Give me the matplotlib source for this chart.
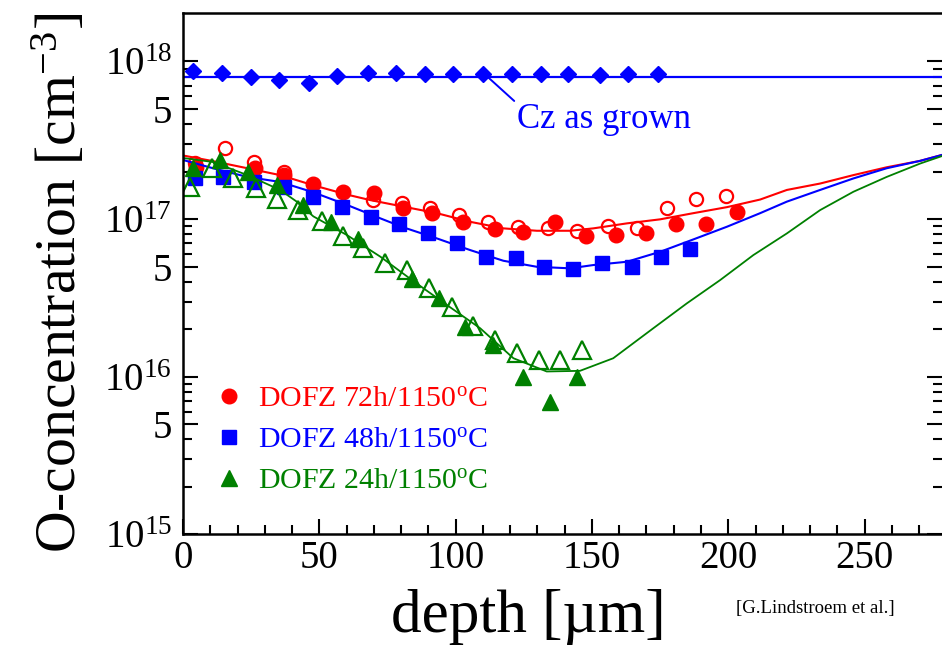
import numpy as np
import matplotlib
matplotlib.use('Agg')
from matplotlib import pyplot as plt
from matplotlib.ticker import FixedLocator, FixedFormatter

plt.rcParams['font.family'] = ['Liberation Serif', 'DejaVu Serif']
plt.rcParams['mathtext.fontset'] = 'custom'
plt.rcParams['mathtext.rm'] = 'Liberation Serif'
plt.rcParams['mathtext.it'] = 'Liberation Serif:italic'

RED, BLUE, GREEN = '#ff0000', '#0000ff', '#008000'

# Cz as grown
cz_depth = [3.6, 14.2, 24.9, 35.3, 46.2, 56.6, 67.8, 78.1, 88.8, 99.2, 110.2,
            120.6, 131.3, 141.3, 152.9, 163.3, 174.1]
cz_conc = [8.72e17, 8.39e17, 7.99e17, 7.61e17, 7.25e17, 8.07e17, 8.39e17, 8.39e17,
           8.31e17, 8.31e17, 8.31e17, 8.31e17, 8.31e17, 8.31e17, 8.19e17, 8.31e17, 8.31e17]
cz_level = 7.99e17

# DOFZ 72h
d72_depth = [4.8, 26.4, 37.1, 47.8, 58.8, 70.1, 80.8, 91.2, 102.6, 114.5, 124.8,
             136.5, 147.8, 158.8, 169.8, 180.9, 191.9, 203.1]
d72_conc = [2.14e17, 2.10e17, 1.90e17, 1.68e17, 1.48e17, 1.47e17, 1.17e17, 1.09e17,
            9.61e16, 8.60e16, 8.31e16, 9.61e16, 7.84e16, 7.92e16, 8.19e16, 9.30e16,
            9.30e16, 1.11e17]
d72o_depth = [4.4, 15.4, 26.0, 37.1, 69.6, 80.2, 90.6, 101.4, 112.0, 123.0, 134.0,
              144.4, 155.8, 166.4, 177.4, 188.2, 199.1]
d72o_conc = [2.26e17, 2.81e17, 2.31e17, 1.98e17, 1.32e17, 1.26e17, 1.17e17, 1.06e17,
             9.61e16, 8.94e16, 8.73e16, 8.43e16, 9.03e16, 8.73e16, 1.17e17, 1.35e17, 1.40e17]
fit72_depth = [0, 11.0, 23.6, 35.6, 47.7, 60.1, 68.6, 80.7, 93.1, 105.3, 117.5, 129.8,
               142.0, 150.5, 162.8, 175.0, 187.2, 199.5, 211.7, 221.5, 233.7, 245.9,
               258.1, 270.4, 278.4]
fit72_conc = [2.53e17, 2.33e17, 2.10e17, 1.90e17, 1.64e17, 1.43e17, 1.32e17, 1.20e17,
              1.09e17, 9.61e16, 8.73e16, 8.43e16, 8.43e16, 8.73e16, 9.39e16, 9.96e16,
              1.09e17, 1.19e17, 1.33e17, 1.53e17, 1.68e17, 1.90e17, 2.13e17, 2.34e17, 2.55e17]

# DOFZ 48h
d48_depth = [4.4, 14.8, 26.0, 37.1, 47.6, 58.2, 69.0, 79.4, 90.0, 100.4, 111.2, 122.0,
             132.4, 143.1, 153.6, 164.6, 175.2, 186.0]
d48_conc = [1.81e17, 1.85e17, 1.72e17, 1.60e17, 1.38e17, 1.20e17, 1.03e17, 9.30e16,
            8.19e16, 7.07e16, 5.77e16, 5.63e16, 4.98e16, 4.80e16, 5.28e16, 4.94e16,
            5.77e16, 6.42e16]
fit48_depth = [0, 11.0, 23.6, 35.6, 47.7, 60.1, 72.4, 80.8, 93.1, 105.3, 117.5, 129.8,
               142.0, 150.5, 162.8, 175.0, 187.2, 199.5, 211.7, 221.5, 233.7, 245.9,
               258.1, 270.4, 278.4]
fit48_conc = [2.37e17, 2.10e17, 1.85e17, 1.72e17, 1.48e17, 1.23e17, 1.01e17, 8.86e16,
              7.54e16, 6.36e16, 5.44e16, 4.98e16, 4.87e16, 5.11e16, 5.36e16, 6.20e16,
              7.43e16, 8.94e16, 1.09e17, 1.29e17, 1.53e17, 1.81e17, 2.10e17, 2.34e17, 2.55e17]

# DOFZ 24h
d24_depth = [3.8, 13.6, 23.9, 34.4, 43.9, 54.1, 64.1, 84.1, 93.9, 103.4, 113.8, 124.8,
             134.6, 144.4]
d24_conc = [2.10e17, 2.37e17, 2.00e17, 1.64e17, 1.23e17, 9.64e16, 7.52e16, 4.16e16,
            3.14e16, 2.07e16, 1.59e16, 1.00e16, 6.94e15, 1.00e16]
d24o_depth = [2.6, 10.5, 18.4, 26.8, 34.6, 42.3, 50.9, 58.5, 66.1, 74.1, 82.3, 90.2,
              98.6, 106.4, 114.5, 122.4, 130.7, 138.3, 146.3]
d24o_conc = [1.60e17, 2.10e17, 1.81e17, 1.57e17, 1.35e17, 1.14e17, 9.71e16, 7.80e16,
             6.52e16, 5.28e16, 4.75e16, 3.68e16, 2.75e16, 2.10e16, 1.71e16, 1.41e16,
             1.28e16, 1.28e16, 1.48e16]
fit24_depth = [0, 11.0, 23.6, 35.6, 41.7, 47.8, 60.1, 72.4, 84.5, 96.8, 109.0, 121.2,
               133.4, 145.6, 157.8, 172.5, 184.8, 197.0, 209.2, 221.5, 233.7, 245.9,
               258.1, 270.4, 278.4]
fit24_conc = [2.44e17, 2.30e17, 1.90e17, 1.53e17, 1.29e17, 1.04e17, 7.92e16, 5.77e16,
              4.04e16, 2.85e16, 2.03e16, 1.31e16, 1.08e16, 1.09e16, 1.31e16, 2.03e16,
              2.92e16, 4.10e16, 5.91e16, 8.11e16, 1.14e17, 1.49e17, 1.85e17, 2.25e17, 2.51e17]

fig = plt.figure(figsize=(9.42, 6.58), dpi=100)
ax = fig.add_axes([0.1943, 0.1878, 0.8057, 0.7926])
ax.set_yscale('log')

# Cz
ax.axhline(cz_level, color=BLUE, lw=1.6)
ax.plot(cz_depth, cz_conc, ls='none', marker='D', ms=8.5, color=BLUE)

# 72h
ax.plot(fit72_depth, fit72_conc, color=RED, lw=1.5)
ax.plot(d72o_depth, d72o_conc, ls='none', marker='o', ms=9.5, mfc='none', mec=RED, mew=1.6)
l72, = ax.plot(d72_depth, d72_conc, ls='none', marker='o', ms=10.5, color=RED)

# 48h
ax.plot(fit48_depth, fit48_conc, color=BLUE, lw=1.5)
l48, = ax.plot(d48_depth, d48_conc, ls='none', marker='s', ms=10.5, color=BLUE)

# 24h
ax.plot(fit24_depth, fit24_conc, color=GREEN, lw=1.3)
ax.plot(d24o_depth, d24o_conc, ls='none', marker='^', ms=13, mfc='none', mec=GREEN, mew=1.6)
l24, = ax.plot(d24_depth, d24_conc, ls='none', marker='^', ms=12, color=GREEN)

ax.set_xlim(0, 278.4)
ax.set_ylim(1e15, 2.03e18)

# ticks
ax.xaxis.set_major_locator(FixedLocator([0, 50, 100, 150, 200, 250]))
ax.xaxis.set_minor_locator(FixedLocator(np.arange(0, 280, 10)))
ymaj = [1e15, 5e15, 1e16, 5e16, 1e17, 5e17, 1e18]
ylab = ['$10^{15}$', '5', '$10^{16}$', '5', '$10^{17}$', '5', '$10^{18}$']
ax.yaxis.set_major_locator(FixedLocator(ymaj))
ax.yaxis.set_major_formatter(FixedFormatter(ylab))
ymin = [k * 10.0**n for n in (15, 16, 17) for k in (2, 3, 4, 6, 7, 8, 9)]
ax.yaxis.set_minor_locator(FixedLocator(ymin))
ax.yaxis.set_minor_formatter(FixedFormatter([''] * len(ymin)))

ax.tick_params(which='both', direction='in', width=1.5, top=False, right=True,
               labelsize=28)
ax.tick_params(which='major', length=11)
ax.tick_params(which='minor', length=6.5)
ax.tick_params(axis='y', pad=8)
ax.tick_params(axis='x', pad=4)
for s in ax.spines.values():
    s.set_linewidth(1.8)
ax.spines['right'].set_visible(False)

ax.set_xlabel('depth [µm]', fontsize=44)
ax.xaxis.set_label_coords(0.4545, -0.105)
ax.set_ylabel('O-concentration [cm$^{\\mathrm{-3}}$]', fontsize=41.5)
ax.yaxis.set_label_coords(-0.125, 0.482)

ax.annotate('Cz as grown', xy=(112, 7.9e17), xytext=(122.5, 4.25e17),
            color=BLUE, fontsize=25, va='center', ha='left',
            arrowprops=dict(arrowstyle='-', color=BLUE, lw=1.4,
                            shrinkA=0, shrinkB=0, relpos=(0, 1)))

ax.legend([l72, l48, l24],
          ['DOFZ 72h/1150$^{\\mathrm{o}}$C', 'DOFZ 48h/1150$^{\\mathrm{o}}$C',
           'DOFZ 24h/1150$^{\\mathrm{o}}$C'],
          loc='upper left', bbox_to_anchor=(0.0408, 0.286), frameon=False,
          handlelength=1.0, handletextpad=0.47, labelspacing=0.47,
          borderpad=0, borderaxespad=0, fontsize=21.5, numpoints=1,
          labelcolor=[RED, BLUE, GREEN])

fig.text(815 / 942, 1 - 609 / 658, '[G.Lindstroem et al.]', fontsize=13.5,
         ha='center', va='center')

fig.savefig('out.png', dpi=100)
